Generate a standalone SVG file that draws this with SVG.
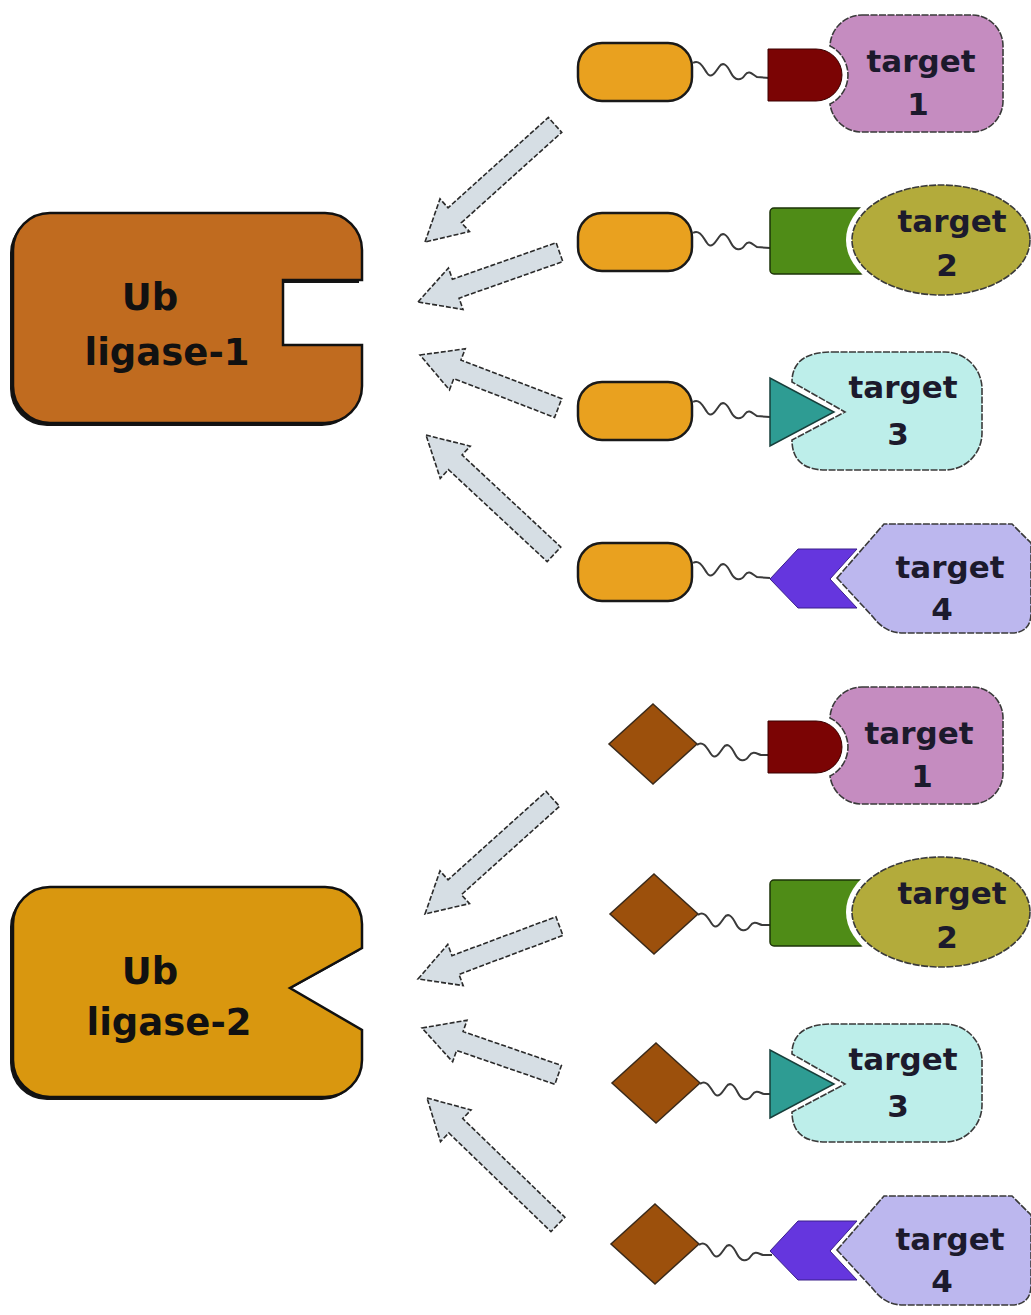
<svg xmlns="http://www.w3.org/2000/svg" width="1031" height="1315" viewBox="0 0 1031 1315">
<style>
.bg{fill:#ffffff}
.lig{stroke:#111;stroke-width:2.5}
.shadow{fill:#141414}
.pill{fill:#E9A11F;stroke:#1a1a1a;stroke-width:2.5}
.dia{fill:#9C500C;stroke:#3a2a1a;stroke-width:1.5}
.sq{fill:none;stroke:#3a3a3a;stroke-width:2}
.arrow{fill:#D6DEE4;stroke:#2a2a2a;stroke-width:1.6;stroke-dasharray:5 2}
.tgt{stroke:#3a3a3a;stroke-width:1.6;stroke-dasharray:7 1.5}
.t1{fill:#C58CC0}.t2{fill:#B3AB3B}.t3{fill:#BDEEEA}.t4{fill:#BCB7EE}
.b1{fill:#7B0404;stroke:#3a0000;stroke-width:1}
.b2{fill:#4F8C17;stroke:#1d3308;stroke-width:1.5}
.b3{fill:#2E9C93;stroke:#173f3b;stroke-width:1.5}
.b4{fill:#6536DE;stroke:#3a1f8a;stroke-width:1}
.gap{fill:#ffffff}
.txt{font-family:"DejaVu Sans","Liberation Sans",sans-serif;font-weight:bold;font-size:31px;fill:#1c1a2c;text-anchor:middle}
.big{font-size:37px;fill:#111}
</style>
<defs>
<path id="sq" d="M0,0 C6,-4 10,4 14,10 C18,16 22,10 26,4 C30,-2 34,2 38,10 C42,18 48,18 52,12 C56,6 60,12 64,14 L77,15"/>
<path id="sq2" d="M0,0 C6,-5 10,3 14,9 C18,15 22,9 26,3 C30,-3 34,1 38,9 C42,17 48,17 52,11 C56,5 60,9 64,10 L73,10"/>
<path id="tg1" d="M862,15 H972 A31,31 0 0 1 1003,46 V101 A31,31 0 0 1 972,132 H862 A32,32 0 0 1 830,104 A32.4,32.4 0 0 0 830,46 A32,32 0 0 1 862,15 Z"/>
<path id="bd1" d="M768,49 H816 A26,26 0 0 1 816,101 H768 Z"/>
<rect id="bd2" x="770" y="208" width="95" height="66" rx="4"/>
<ellipse id="gp2" cx="941" cy="240" rx="95" ry="61"/>
<ellipse id="tg2" cx="941" cy="240" rx="89" ry="55"/>
<path id="tg3" d="M832,352 H945 A37,37 0 0 1 982,389 V433 A37,37 0 0 1 945,470 H826 Q792,470 792,440 L845,412 L792,382 Q792,352 832,352 Z"/>
<path id="bd3" d="M770,378 L770,446 L834,412 Z"/>
<path id="tg4" d="M837,578 L884,524 H1012 L1031,543 V613 Q1031,633 1011,633 H903 Q885,633 873,617 Z"/>
<path id="bd4" d="M770,579 L798,549 H857 L830,579 L857,608 H798 Z"/>
</defs>
<rect class="bg" x="0" y="0" width="1031" height="1315"/>

<g id="ligase-1">
<path class="shadow" transform="translate(-3,3)" d="M50,213 H325 A37,37 0 0 1 362,250 V280 H283 V345 H362 V386 A37,37 0 0 1 325,423 H50 A37,37 0 0 1 13,386 V250 A37,37 0 0 1 50,213 Z"/>
<path class="lig" fill="#C06B1F" d="M50,213 H325 A37,37 0 0 1 362,250 V280 H283 V345 H362 V386 A37,37 0 0 1 325,423 H50 A37,37 0 0 1 13,386 V250 A37,37 0 0 1 50,213 Z"/>
<text class="txt big" x="150" y="310">Ub</text>
<text class="txt big" x="167" y="365">ligase-1</text>
</g>

<g id="ligase-2">
<path class="shadow" transform="translate(-3,3)" d="M50,887 H325 A37,37 0 0 1 362,924 V948 L290,988 L362,1030 V1060 A37,37 0 0 1 325,1097 H50 A37,37 0 0 1 13,1060 V924 A37,37 0 0 1 50,887 Z"/>
<path class="lig" fill="#D9970F" d="M50,887 H325 A37,37 0 0 1 362,924 V948 L290,988 L362,1030 V1060 A37,37 0 0 1 325,1097 H50 A37,37 0 0 1 13,1060 V924 A37,37 0 0 1 50,887 Z"/>
<text class="txt big" x="150" y="984">Ub</text>
<text class="txt big" x="169" y="1035">ligase-2</text>
</g>

<!-- top section: degraders with ligase-1 ligand -->
<g id="pair-1-1">
<rect class="pill" x="578" y="43" width="114" height="58" rx="24"/>
<use href="#sq" class="sq" x="693" y="63"/>
<use href="#tg1" class="tgt t1"/>
<use href="#bd1" class="b1"/>
<text class="txt" x="921" y="72">target</text>
<text class="txt" x="918" y="115">1</text>
</g>
<g id="pair-1-2">
<rect class="pill" x="578" y="213" width="114" height="58" rx="24"/>
<use href="#sq" class="sq" x="693" y="233"/>
<use href="#bd2" class="b2"/>
<use href="#gp2" class="gap"/>
<use href="#tg2" class="tgt t2"/>
<text class="txt" x="952" y="232">target</text>
<text class="txt" x="947" y="276">2</text>
</g>
<g id="pair-1-3">
<rect class="pill" x="578" y="382" width="114" height="58" rx="24"/>
<use href="#sq" class="sq" x="693" y="402"/>
<use href="#tg3" class="tgt t3"/>
<use href="#bd3" class="b3"/>
<text class="txt" x="903" y="398">target</text>
<text class="txt" x="898" y="445">3</text>
</g>
<g id="pair-1-4">
<rect class="pill" x="578" y="543" width="114" height="58" rx="24"/>
<use href="#sq" class="sq" x="693" y="563"/>
<use href="#tg4" class="tgt t4"/>
<use href="#bd4" class="b4"/>
<text class="txt" x="950" y="578">target</text>
<text class="txt" x="942" y="620">4</text>
</g>

<!-- bottom section: degraders with ligase-2 ligand -->
<g id="pair-2-1">
<path class="dia" d="M653,704 L697,744 L653,784 L609,744 Z"/>
<use href="#sq2" class="sq" x="697" y="745"/>
<g transform="translate(0,672)">
<use href="#tg1" class="tgt t1"/>
<use href="#bd1" class="b1"/>
<text class="txt" x="919" y="72">target</text>
<text class="txt" x="922" y="115">1</text>
</g>
</g>
<g id="pair-2-2">
<path class="dia" d="M654,874 L698,914 L654,954 L610,914 Z"/>
<use href="#sq2" class="sq" x="698" y="915"/>
<g transform="translate(0,672)">
<use href="#bd2" class="b2"/>
<use href="#gp2" class="gap"/>
<use href="#tg2" class="tgt t2"/>
<text class="txt" x="952" y="232">target</text>
<text class="txt" x="947" y="276">2</text>
</g>
</g>
<g id="pair-2-3">
<path class="dia" d="M656,1043 L700,1083 L656,1123 L612,1083 Z"/>
<use href="#sq2" class="sq" x="700" y="1084"/>
<g transform="translate(0,672)">
<use href="#tg3" class="tgt t3"/>
<use href="#bd3" class="b3"/>
<text class="txt" x="903" y="398">target</text>
<text class="txt" x="898" y="445">3</text>
</g>
</g>
<g id="pair-2-4">
<path class="dia" d="M655,1204 L699,1244 L655,1284 L611,1244 Z"/>
<use href="#sq2" class="sq" x="699" y="1245"/>
<g transform="translate(0,672)">
<use href="#tg4" class="tgt t4"/>
<use href="#bd4" class="b4"/>
<text class="txt" x="950" y="578">target</text>
<text class="txt" x="942" y="620">4</text>
</g>
</g>

<g id="connectors">
<path class="arrow" d="M0,0 L40,-22 L40,-10 L175,-10 L175,10 L40,10 L40,22 Z" transform="translate(425,242) rotate(-42)"/>
<path class="arrow" d="M0,0 L40,-22 L40,-10 L150,-10 L150,10 L40,10 L40,22 Z" transform="translate(418,302) rotate(-19.4)"/>
<path class="arrow" d="M0,0 L40,-22 L40,-10 L148,-10 L148,10 L40,10 L40,22 Z" transform="translate(420,355) rotate(21)"/>
<path class="arrow" d="M0,0 L40,-22 L40,-10 L175,-10 L175,10 L40,10 L40,22 Z" transform="translate(426,435) rotate(43)"/>
<path class="arrow" d="M0,0 L40,-22 L40,-10 L172,-10 L172,10 L40,10 L40,22 Z" transform="translate(425,914) rotate(-42)"/>
<path class="arrow" d="M0,0 L40,-22 L40,-10 L151,-10 L151,10 L40,10 L40,22 Z" transform="translate(418,979) rotate(-20.5)"/>
<path class="arrow" d="M0,0 L40,-22 L40,-10 L144,-10 L144,10 L40,10 L40,22 Z" transform="translate(422,1028) rotate(19)"/>
<path class="arrow" d="M0,0 L40,-22 L40,-10 L182,-10 L182,10 L40,10 L40,22 Z" transform="translate(427,1098) rotate(44)"/>
</g>
</svg>
